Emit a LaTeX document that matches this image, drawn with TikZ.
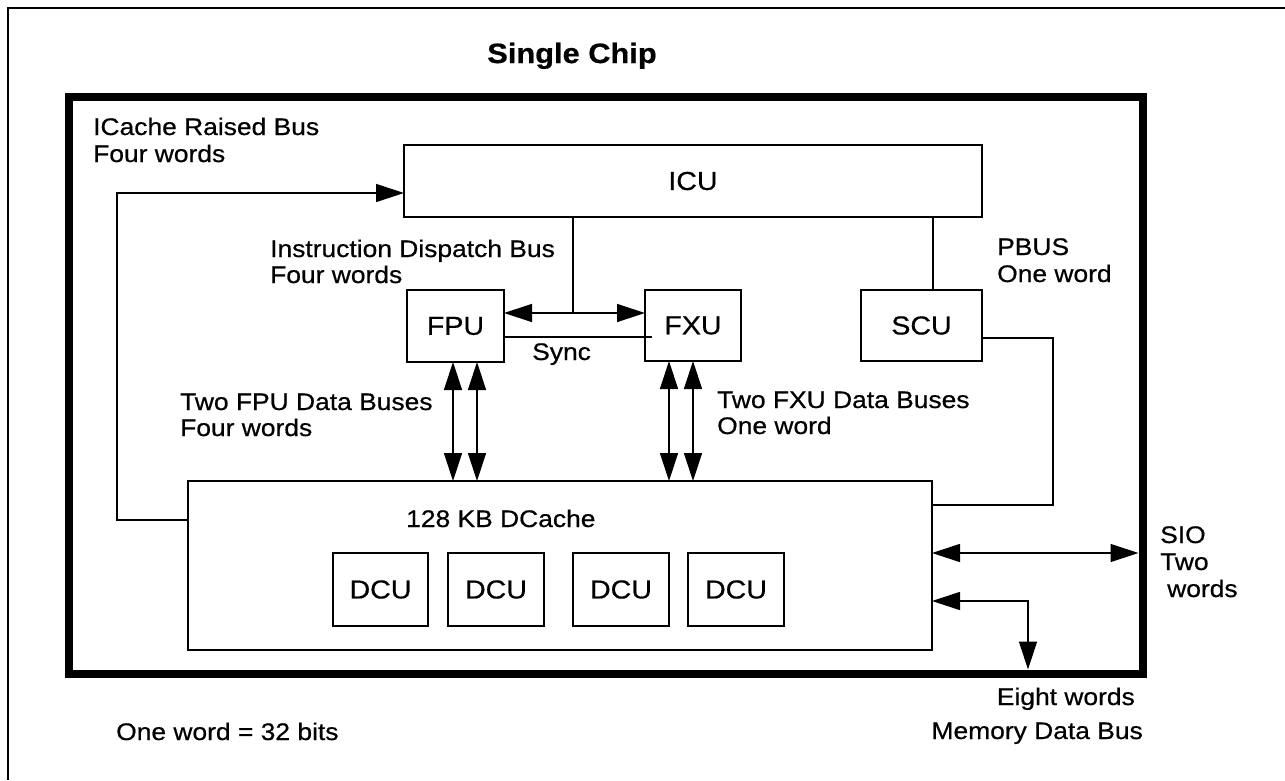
\documentclass[tikz,border=0pt]{standalone}
\usepackage{fontspec}
\setmainfont{Liberation Sans}[FakeStretch=1.1, FakeBold=0.6]
\usetikzlibrary{arrows.meta}

\tikzset{
  unit/.style={draw, line width=1.3pt, inner sep=0pt, outer sep=0pt,
    font=\fontsize{26}{28}\selectfont},
  lbl/.style={inner sep=0pt, anchor=base west, font=\fontsize{24}{26}\selectfont},
  lblr/.style={lbl, anchor=base east},
  wire/.style={line width=1.3pt},
  head/.style={Triangle[length=28pt,width=18pt]},
  bus/.style={wire, {Triangle[length=28pt,width=18pt]}-{Triangle[length=28pt,width=18pt]}},
  busin/.style={wire, -{Triangle[length=28pt,width=18pt]}}
}

\begin{document}
\begin{tikzpicture}[x=1pt, y=-1pt]
\useasboundingbox (0,0) rectangle (1285,780);

% page frame
\draw[line width=1.6pt] (8,780) -- (8,8) -- (1285,8);

% title
\node (title) [inner sep=0pt, anchor=base, font=\fontsize{28}{30}\selectfont\bfseries] at (572,63) {Single Chip};

% chip outline
\node (chip) [draw, line width=8pt, inner sep=0pt, outer sep=-4pt,
  minimum width=1074pt, minimum height=577pt] at (605.5,385) {};

% functional units
\node (ICU) [unit, minimum width=578pt, minimum height=72pt] at (693,181) {ICU};
\node (FPU) [unit, minimum width=97pt, minimum height=72pt] at (455.5,326) {FPU};
\node (FXU) [unit, minimum width=96pt, minimum height=71pt] at (693,325.5) {FXU};
\node (SCU) [unit, minimum width=121pt, minimum height=71pt] at (921.5,325.5) {SCU};
\node (DCache) [unit, minimum width=744pt, minimum height=169pt] at (560,565.5) {};
\node (DCU1) [unit, minimum width=95pt, minimum height=73pt] at (380.5,589.5) {DCU};
\node (DCU2) [unit, minimum width=96pt, minimum height=73pt] at (496,589.5) {DCU};
\node (DCU3) [unit, minimum width=96pt, minimum height=73pt] at (621,589.5) {DCU};
\node (DCU4) [unit, minimum width=96pt, minimum height=73pt] at (736,589.5) {DCU};

% routing points
\coordinate (disp) at (573,313);
\coordinate (sync) at (652,337);
\coordinate (pb) at (933,0);
\coordinate (fa1) at (453,0);
\coordinate (fa2) at (477,0);
\coordinate (xa1) at (669,0);
\coordinate (xa2) at (693,0);
\coordinate (ic) at (117,520);
\coordinate (icy) at (0,193);
\coordinate (sc) at (1053,338);
\coordinate (scy) at (0,505);
\coordinate (sio) at (0,553);
\coordinate (mem) at (1028,601);

% instruction dispatch bus
\draw[wire] (ICU.south -| disp) -- (disp);
\draw[bus] (FPU.east |- disp) -- (FXU.west |- disp);
% sync line
\draw[wire] (FPU.east |- sync) -- (sync);
% PBUS
\draw[wire] (ICU.south -| pb) -- (SCU.north -| pb);
% FPU and FXU data buses
\draw[bus] (FPU.south -| fa1) -- (DCache.north -| fa1);
\draw[bus] (FPU.south -| fa2) -- (DCache.north -| fa2);
\draw[bus] (FXU.south -| xa1) -- (DCache.north -| xa1);
\draw[bus] (FXU.south -| xa2) -- (DCache.north -| xa2);
% ICache reload bus
\draw[busin] (DCache.west |- ic) -- (ic) |- (ICU.west |- icy);
% SCU to DCache
\draw[wire] (SCU.east |- sc) -| (sc |- scy) -- (DCache.east |- scy);
% SIO
\draw[bus] (DCache.east |- sio) -- (chip.east |- sio);
% memory data bus
\draw[bus] (DCache.east |- mem) -- (mem) -- (mem |- chip.south);

% bus labels
\node (l1a) [lbl] at (93,135) {ICache Raised Bus};
\node (l1b) [lbl] at (93,162) {Four words};
\node (l2a) [lbl] at (270,257) {Instruction Dispatch Bus};
\node (l2b) [lbl] at (270,283) {Four words};
\node (l3a) [lbl] at (997,255) {PBUS};
\node (l3b) [lbl] at (997,282) {One word};
\node (l4) [lbl] at (532,360) {Sync};
\node (l5a) [lbl] at (180,410) {Two FPU Data Buses};
\node (l5b) [lbl] at (180,436) {Four words};
\node (l6a) [lbl] at (717,408) {Two FXU Data Buses};
\node (l6b) [lbl] at (717,434) {One word};
\node (l7) [lbl] at (406,527) {128 KB DCache};
\node (l8a) [lbl] at (1160,543) {SIO};
\node (l8b) [lbl] at (1160,570) {Two};
\node (l8c) [lbl] at (1167,597) {words};
\node (l9a) [lblr] at (1135,705) {Eight words};
\node (l9b) [lblr] at (1143,739) {Memory Data Bus};
\node (l10) [lbl] at (116,740) {One word = 32 bits};
\end{tikzpicture}
\end{document}
